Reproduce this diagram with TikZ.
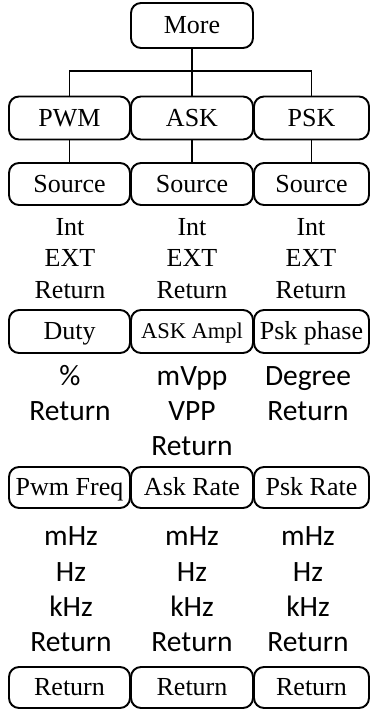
\documentclass[tikz,border=0pt]{standalone}
\usepackage{fontspec}
\setmainfont{Liberation Serif}
\newfontfamily\carlito{Carlito}
\begin{document}
\begin{tikzpicture}[x=1pt,y=-1pt,
  box/.style={draw, line width=1.9pt, rounded corners=10pt, inner sep=0pt,
    text height=18pt, text depth=2pt,
    font=\fontsize{26}{30}\selectfont},
  smallbox/.style={box, text height=16pt, text depth=2pt, font=\fontsize{22.5}{26}\selectfont},
  conn/.style={line width=1.9pt},
  sertext/.style={anchor=base, inner sep=0pt, font=\fontsize{26}{30}\selectfont},
  santext/.style={anchor=base, inner sep=0pt, font=\carlito\fontsize{29.5}{34}\selectfont}]
\useasboundingbox (0,0) rectangle (370,710);
% top
\node[box, minimum width=122pt, minimum height=45pt] (more) at (192,25.5) {More};
% row 1
\node[box, minimum width=121pt, minimum height=43pt] (pwm) at (69.5,118) {PWM};
\node[box, minimum width=122pt, minimum height=43pt] (ask) at (192,118) {ASK};
\node[box, minimum width=115pt, minimum height=43pt] (psk) at (311.5,118) {PSK};
\coordinate (jn) at (192,71);
\draw[conn] (more.south) -- (ask.north);
\draw[conn] (pwm.north) |- (jn) -| (psk.north);
% row 2
\node[box, minimum width=121pt, minimum height=42pt] (src1) at (69.5,184) {Source};
\node[box, minimum width=122pt, minimum height=42pt] (src2) at (192,184) {Source};
\node[box, minimum width=115pt, minimum height=42pt] (src3) at (311.5,184) {Source};
\draw[conn] (pwm.south) -- (src1.north);
\draw[conn] (ask.south) -- (src2.north);
\draw[conn] (psk.south) -- (src3.north);
% source options
\node[sertext] (i1) at (70,235) {Int};
\node[sertext] (e1) at (70,266.5) {EXT};
\node[sertext] (r1) at (70,298) {Return};
\node[sertext] (i2) at (192,235) {Int};
\node[sertext] (e2) at (192,266.5) {EXT};
\node[sertext] (r2) at (192,298) {Return};
\node[sertext] (i3) at (311,235) {Int};
\node[sertext] (e3) at (311,266.5) {EXT};
\node[sertext] (r3) at (311,298) {Return};
% row 3
\node[box, minimum width=121pt, minimum height=43pt] (duty) at (69.5,331.5) {Duty};
\node[smallbox, minimum width=122pt, minimum height=43pt] (ampl) at (192,331.5) {ASK Ampl};
\node[box, minimum width=115pt, minimum height=43pt] (phase) at (311.5,331.5) {Psk phase};
\node[santext] (p1) at (70,385) {\%};
\node[santext] (pr1) at (70,420) {Return};
\node[santext] (m2) at (192,385) {mVpp};
\node[santext] (v2) at (192,420) {VPP};
\node[santext] (vr2) at (192,455) {Return};
\node[santext] (d3) at (308,385) {Degree};
\node[santext] (dr3) at (308,420) {Return};
% row 4
\node[box, minimum width=121pt, minimum height=41pt] (pfreq) at (69.5,487.5) {Pwm Freq};
\node[box, minimum width=122pt, minimum height=41pt] (arate) at (192,487.5) {Ask Rate};
\node[box, minimum width=115pt, minimum height=41pt] (prate) at (311.5,487.5) {Psk Rate};
\foreach \c/\x in {a/71,b/192,c/308}{
  \node[santext] (mhz\c) at (\x,545) {mHz};
  \node[santext] (hz\c) at (\x,581.5) {Hz};
  \node[santext] (khz\c) at (\x,616.5) {kHz};
  \node[santext] (ret\c) at (\x,651.5) {Return};
}
% row 5
\node[box, minimum width=121pt, minimum height=41pt] (b1) at (69.5,687.5) {Return};
\node[box, minimum width=122pt, minimum height=41pt] (b2) at (192,687.5) {Return};
\node[box, minimum width=115pt, minimum height=41pt] (b3) at (311.5,687.5) {Return};
\end{tikzpicture}
\end{document}
